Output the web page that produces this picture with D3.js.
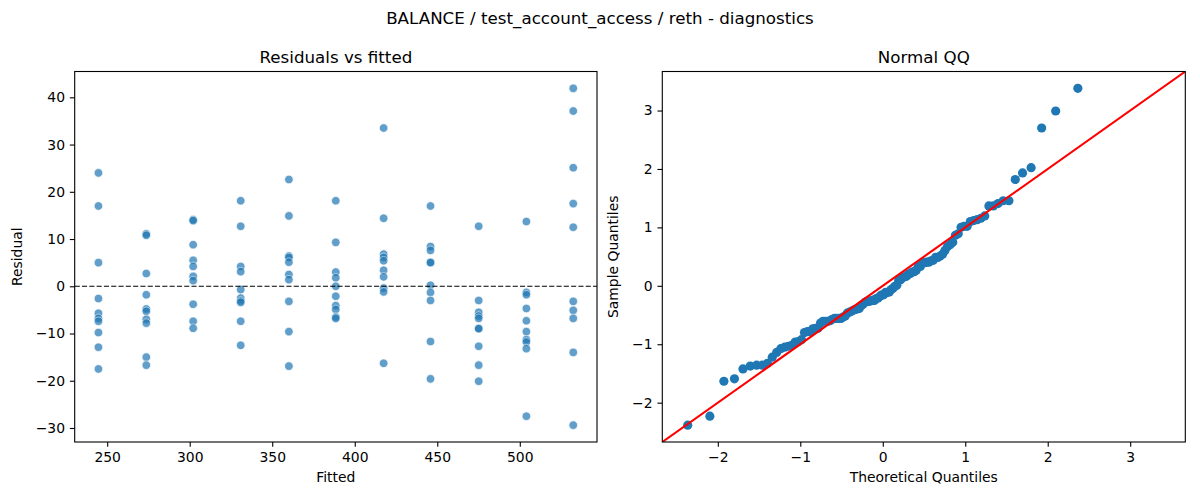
<!DOCTYPE html>
<html><head><meta charset="utf-8">
<script src="https://cdn.jsdelivr.net/npm/d3@7"></script>
<style>
body{margin:0;background:#fff}
text{font-family:"DejaVu Sans",sans-serif;fill:#000}
</style>
</head><body>
<svg id="chart" width="1200" height="500"></svg>
<script>
// ---------------- data ----------------
const figureTitle = "BALANCE / test_account_access / reth - diagnostics";
const leftTitle = "Residuals vs fitted";
const rightTitle = "Normal QQ";
const fittedValues = [244.7, 273.7, 302.1, 330.9, 360.1, 388.5, 417.5, 445.9, 475.1, 504.0, 532.4];
const residualsByFitted = [
  [24.0, 17.0, 5.0, -2.6, -5.7, -6.8, -7.4, -9.8, -12.9, -17.5],
  [11.1, 10.8, 2.7, -1.8, -4.8, -5.3, -7.0, -7.8, -15.0, -16.7],
  [14.1, 13.9, 8.8, 5.5, 4.2, 2.1, 1.2, -3.8, -7.4, -8.9],
  [18.1, 12.7, 4.2, 3.1, -0.7, -2.5, -3.1, -3.4, -7.4, -12.5],
  [22.6, 14.9, 6.4, 6.1, 5.1, 2.5, 1.4, -3.2, -9.6, -16.9],
  [18.1, 9.3, 3.0, 1.8, 0.0, -2.1, -4.1, -4.9, -6.5, -6.8],
  [33.5, 14.4, 6.8, 6.1, 5.4, 3.4, 2.0, -0.4, -1.2, -16.3],
  [17.0, 8.4, 7.6, 5.1, 5.0, 0.2, -1.3, -3.0, -11.7, -19.6],
  [12.7, -3.0, -5.5, -6.3, -6.8, -8.9, -9.0, -12.7, -16.7, -20.1],
  [13.7, -1.3, -1.8, -4.7, -7.3, -9.6, -11.3, -11.8, -13.2, -27.5],
  [41.9, 37.1, 25.1, 17.5, 12.5, -3.2, -5.1, -6.8, -14.0, -29.4]
];
const fittedTicks = [250, 300, 350, 400, 450, 500];
const residualTicks = [-30, -20, -10, 0, 10, 20, 30, 40];
const qqTicks = [-2, -1, 0, 1, 2, 3];

// ---------------- helpers ----------------
function normInv(p){
  const a=[-3.969683028665376e+01,2.209460984245205e+02,-2.759285104469687e+02,1.383577518672690e+02,-3.066479806614716e+01,2.506628277459239e+00];
  const b=[-5.447609879822406e+01,1.615858368580409e+02,-1.556989798598866e+02,6.680131188771972e+01,-1.328068155288572e+01];
  const c=[-7.784894002430293e-03,-3.223964580411365e-01,-2.400758277161838e+00,-2.549671010229528e+00,4.374664141464968e+00,2.938163982698783e+00];
  const d=[7.784695709101398e-03,3.224671290700398e-01,2.445134137264031e+00,3.754408184286138e+00];
  const pl=0.02425;
  let q,r;
  if(p<pl){q=Math.sqrt(-2*Math.log(p));return (((((c[0]*q+c[1])*q+c[2])*q+c[3])*q+c[4])*q+c[5])/((((d[0]*q+d[1])*q+d[2])*q+d[3])*q+1);}
  if(p<=1-pl){q=p-0.5;r=q*q;return (((((a[0]*r+a[1])*r+a[2])*r+a[3])*r+a[4])*r+a[5])*q/(((((b[0]*r+b[1])*r+b[2])*r+b[3])*r+b[4])*r+1);}
  q=Math.sqrt(-2*Math.log(1-p));return -(((((c[0]*q+c[1])*q+c[2])*q+c[3])*q+c[4])*q+c[5])/((((d[0]*q+d[1])*q+d[2])*q+d[3])*q+1);
}
function padExtent(ext, frac){const r=ext[1]-ext[0];return [ext[0]-r*frac, ext[1]+r*frac];}

const points = [];
fittedValues.forEach((f,i)=>residualsByFitted[i].forEach(r=>points.push({fitted:f,resid:r})));
const allRes = points.map(p=>p.resid);
const sd = d3.deviation(allRes), mu = d3.mean(allRes);
const sample = allRes.map(r=>(r-mu)/sd).sort(d3.ascending);
const n = sample.length;
const qq = sample.map((s,i)=>({theo:normInv((i+1)/(n+1)), samp:s}));

// ---------------- layout ----------------
const svg = d3.select("#chart");
const TICK_FS = "13.9px", LABEL_FS = "13.9px", TITLE_FS = "16.7px";
const TL = 4.86, TP = 4.86;
const L = {x0:74.7, x1:597, y0:71.5, y1:442};
const R = {x0:662.3, x1:1185.3, y0:71.5, y1:442};

svg.append("text").attr("x",600).attr("y",24).attr("text-anchor","middle")
  .style("font-size",TITLE_FS).text(figureTitle);

function drawFrame(g, box, xs, ys, xt, yt, xlabel, ylabel, title, ylabelX){
  const xa = d3.axisBottom(xs).tickValues(xt).tickSize(TL).tickPadding(TP).tickFormat(d3.format("d"));
  const ya = d3.axisLeft(ys).tickValues(yt).tickSize(TL).tickPadding(TP).tickFormat(d3.format("d"));
  const gx = g.append("g").attr("transform",`translate(0,${box.y1})`).call(xa);
  const gy = g.append("g").attr("transform",`translate(${box.x0},0)`).call(ya);
  [gx,gy].forEach(a=>{
    a.select(".domain").remove();
    a.selectAll(".tick line").attr("stroke","#000").attr("stroke-width",1.1);
    a.selectAll(".tick text").style("font-size",TICK_FS).style("font-family","'DejaVu Sans',sans-serif").attr("fill","#000");
  });
  g.append("rect").attr("x",box.x0).attr("y",box.y0).attr("width",box.x1-box.x0).attr("height",box.y1-box.y0)
    .attr("fill","none").attr("stroke","#000").attr("stroke-width",1.1);
  g.append("text").attr("x",(box.x0+box.x1)/2).attr("y",box.y0-8.5).attr("text-anchor","middle")
    .style("font-size",TITLE_FS).text(title);
  g.append("text").attr("x",(box.x0+box.x1)/2).attr("y",482).attr("text-anchor","middle")
    .style("font-size",LABEL_FS).text(xlabel);
  g.append("text").attr("transform",`translate(${ylabelX},${(box.y0+box.y1)/2}) rotate(-90)`)
    .attr("text-anchor","middle").style("font-size",LABEL_FS).text(ylabel);
}

// ---------------- left: residuals vs fitted ----------------
const xL = d3.scaleLinear().domain(padExtent(d3.extent(fittedValues),0.05)).range([L.x0,L.x1]);
const yL = d3.scaleLinear().domain(padExtent(d3.extent(allRes),0.05)).range([L.y1,L.y0]);
const gL = svg.append("g");
const defs = svg.append("defs");
defs.append("clipPath").attr("id","clipL").append("rect").attr("x",L.x0).attr("y",L.y0).attr("width",L.x1-L.x0).attr("height",L.y1-L.y0);
defs.append("clipPath").attr("id","clipR").append("rect").attr("x",R.x0).attr("y",R.y0).attr("width",R.x1-R.x0).attr("height",R.y1-R.y0);

gL.append("g").attr("clip-path","url(#clipL)").selectAll("circle").data(points).join("circle")
  .attr("cx",d=>xL(d.fitted)).attr("cy",d=>yL(d.resid)).attr("r",4.3)
  .attr("fill","#1f77b4").attr("stroke","#fff").attr("stroke-width",0.7).attr("opacity",0.7);
gL.append("line").attr("x1",L.x0).attr("x2",L.x1).attr("y1",yL(0)).attr("y2",yL(0))
  .attr("stroke","#000").attr("stroke-width",1.2).attr("stroke-dasharray","5.1,2.2");
drawFrame(gL, L, xL, yL, fittedTicks, residualTicks, "Fitted", "Residual", leftTitle, 22);

// ---------------- right: normal QQ ----------------
const ySamp = padExtent(d3.extent(sample),0.05);
const xTheo = padExtent(d3.extent(qq,d=>d.theo),0.05);
const lo = Math.min(ySamp[0],xTheo[0]), hi = Math.max(ySamp[1],xTheo[1]);
const xR = d3.scaleLinear().domain([lo,hi]).range([R.x0,R.x1]);
const yR = d3.scaleLinear().domain([lo,hi]).range([R.y1,R.y0]);
const gR = svg.append("g");
const gRc = gR.append("g").attr("clip-path","url(#clipR)");
gRc.selectAll("circle").data(qq).join("circle")
  .attr("cx",d=>xR(d.theo)).attr("cy",d=>yR(d.samp)).attr("r",4.6).attr("fill","#1f77b4");
gRc.append("line").attr("x1",xR(lo)).attr("y1",yR(lo)).attr("x2",xR(hi)).attr("y2",yR(hi))
  .attr("stroke","#ff0000").attr("stroke-width",2.1);
drawFrame(gR, R, xR, yR, qqTicks, qqTicks, "Theoretical Quantiles", "Sample Quantiles", rightTitle, 618);
</script>
</body></html>
